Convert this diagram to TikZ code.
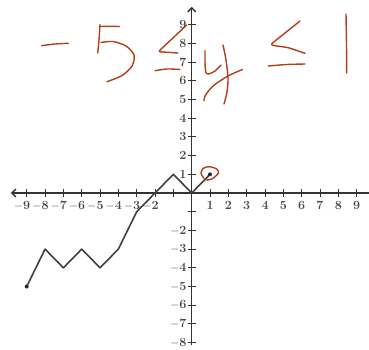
\documentclass[tikz,border=0pt]{standalone}
\usepackage{xcolor}
\usepackage{tikz}
\usetikzlibrary{arrows.meta}

\definecolor{inkred}{RGB}{178,62,26}

\begin{document}
\begin{tikzpicture}[
  x=1pt, y=-1pt,
  % styles
  axis/.style={line width=1.4pt, color=black!80},
  tick/.style={line width=1pt, color=black!80},
  xlab/.style={anchor=north, inner sep=1pt, yshift=-7pt, text=black!72, font=\fontsize{12.5}{13}\selectfont\bfseries},
  ylab/.style={anchor=east, inner sep=1pt, xshift=-4pt, text=black!72, font=\fontsize{12.5}{13}\selectfont\bfseries},
  graph/.style={line width=1.6pt, color=black!75, line join=round},
  pt/.style={circle, fill=black!85, inner sep=0pt, minimum size=4pt},
  ink/.style={line width=1.4pt, color=inkred, line cap=round, line join=round}
]
  \useasboundingbox (0,0) rectangle (369,349);

  \begin{scope}[shift={(191.7,193)}, x=18.33pt, y=18.7pt]
    % axes
    \coordinate (xl) at (-9.86,0);
    \coordinate (xr) at (9.66,0);
    \coordinate (yt) at (0,9.95);
    \coordinate (yb) at (0,-8.13);
    \draw[axis, {Straight Barb[length=4pt, width=8pt]}-] (xl) -- (xr);
    \draw[axis, -{Straight Barb[length=4pt, width=8pt]}] (yb) -- (yt);

    % ticks
    \foreach \i in {-9,...,-1,1,2,...,9}
      \draw[tick] (\i,0) ++(0,-4pt) -- ++(0,8pt);
    \foreach \j in {-8,...,-1,1,2,...,9}
      \draw[tick] (0,\j) ++(-4pt,0) -- ++(8pt,0);

    % labels
    \foreach \i in {1,...,9}
      \node[xlab] (xl\i) at (\i,0) {\i};
    \foreach \i in {2,...,9}
      \node[xlab] (xn\i) at (-\i,0) {\llap{$-$}\i};
    \foreach \j in {1,...,9}
      \node[ylab] (yl\j) at (0,\j) {\j};
    \foreach \j in {2,...,8}
      \node[ylab] (yn\j) at (0,-\j) {$-$\j};

    % graph
    \coordinate (p1) at (-9,-5);
    \coordinate (p2) at (-8,-3);
    \coordinate (p3) at (-7,-4);
    \coordinate (p4) at (-6,-3);
    \coordinate (p5) at (-5,-4);
    \coordinate (p6) at (-4,-3);
    \coordinate (p7) at (-3,-1);
    \coordinate (p8) at (-1,1);
    \coordinate (p9) at (0,0);
    \coordinate (p10) at (1,1);
    \draw[graph] (p1) -- (p2) -- (p3) -- (p4) -- (p5) -- (p6) -- (p7) -- (p8) -- (p9) -- (p10);
    \node[pt] (start) at (p1) {};
    \node[pt] (end) at (p10) {};
  \end{scope}

  % handwriting: -5 <= y <= 1
  \draw[ink] plot[smooth] coordinates {(41.7,45.7) (55,44) (68.3,43.3)};
  \draw[ink] plot[smooth] coordinates {(100,26.5) (110,26.3) (119.5,26.5)};
  \draw[ink] plot[smooth] coordinates {(100,24.5) (99,40) (97.7,53)};
  \draw[ink] plot[smooth] coordinates {(101,42.5) (113,41.5) (126,46) (134,55) (132,66) (122,75.5) (107,81.7)};
  \draw[ink, rounded corners=2pt] (186.7,25) -- (158.3,51.7) -- (178,53);
  \draw[ink] plot[smooth] coordinates {(155,70.7) (167,69) (180,69.5)};
  \draw[ink] plot[smooth] coordinates {(205,50.7) (205,62) (205.7,71.7) (208.3,74) (215,71) (221,65)};
  \draw[ink] plot[smooth] coordinates {(223,45) (226,60) (228,78) (227,92) (224,104)};
  \draw[ink] plot[smooth] coordinates {(242.5,69.5) (228,76) (213,86) (205,96) (204,101)};
  \draw[ink, rounded corners=3pt] (300,21) -- (270,45) -- (288,47.5) -- (305,53.3);
  \draw[ink] plot[smooth] coordinates {(268.3,66) (287,64.5) (305,64)};
  \draw[ink] plot[smooth] coordinates {(346,14) (346.5,45) (346.7,73)};

  % circle round the point (1,1)
  \draw[ink] plot[smooth] coordinates {(204,178.3) (201,173.3) (203.3,168.3) (209.3,166.7) (216.7,169) (218.3,173.3) (211.7,179) (206,180)};
\end{tikzpicture}
\end{document}
